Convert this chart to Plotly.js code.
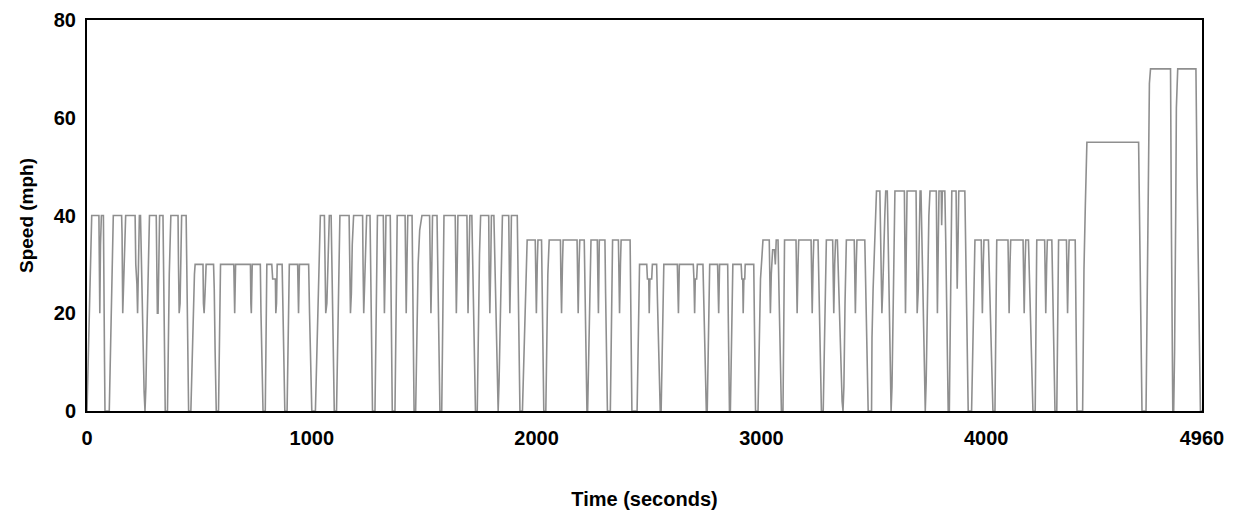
<!DOCTYPE html>
<html>
<head>
<meta charset="utf-8">
<script src="https://cdn.plot.ly/plotly-3.0.1.min.js"></script>
<style>html,body{margin:0;padding:0;background:#fff;}#chart{width:1238px;height:524px;}</style>
</head>
<body>
<div id="chart"></div>
<script>
// Segment A: 40 mph stop-and-go
const segA_t = [0,5,14,21,53,55,57,60,64,73,75,76,78,80,99,103,110,117,154,156,159,162,166,172,214,217,222,225,229,233,238,242,248,254,258,262,266,272,278,308,310,313,316,319,323,338,340,344,348,358,361,366,373,405,407,410,414,418,421,441,443,447,452,462];
const segA_v = [0,10,29,40,40,22,20,34,40,40,33,22,10,0,0,10,30,40,40,36,20,24,30,40,40,30,26,20,30,40,40,30,15,4,0,5,15,30,40,40,30,20,20,32,40,40,30,12,0,0,10,28,40,40,30,20,22,35,40,40,30,12,0,0];
// Segment B: 30 mph
const segB_t = [466,472,478,481,516,518,521,525,530,563,566,570,575,585,588,591,594,653,655,657,661,727,729,731,735,771,774,778,783,793,796,800,822,826,838,840,843,846,868,871,876,880,890,894,900,937,939,941,945,986,990,995,1000,1016];
const segB_v = [8,20,28,30,30,22,20,24,30,30,25,12,0,0,10,25,30,30,22,20,30,30,22,20,30,30,20,8,0,0,12,30,30,27,27,20,22,30,30,20,8,0,0,12,30,30,22,20,30,30,20,8,0,0];
// Segment C: 40 mph
const segC_t = [1021,1030,1038,1056,1058,1062,1067,1072,1078,1086,1090,1095,1100,1110,1114,1119,1125,1166,1168,1172,1176,1180,1186,1226,1228,1231,1235,1240,1244,1259,1262,1266,1270,1281,1284,1288,1292,1318,1320,1323,1327,1330,1349,1352,1355,1358,1370,1373,1377,1380,1415,1417,1420,1424,1427,1446,1449,1452,1455,1462,1466,1473,1480,1490,1524,1527,1530,1534,1537,1557,1560,1565,1570,1578,1581,1585,1588,1638,1640,1643,1647,1650,1690,1692,1695,1699,1703,1712,1716,1722,1728,1736,1740,1746,1751,1787,1789,1792,1796,1799,1810,1814,1820,1826,1829,1833,1838,1844,1848,1876,1878,1881,1885,1888,1914,1918,1922,1926,1937];
const segC_v = [10,28,40,40,30,20,22,32,40,40,28,12,0,0,12,30,40,40,30,20,24,34,40,40,30,20,26,36,40,40,28,10,0,0,12,30,40,40,28,20,30,40,40,28,10,0,0,15,32,40,40,28,20,32,40,40,25,8,0,0,12,30,37,40,40,28,20,30,40,40,28,10,0,0,15,32,40,40,28,20,30,40,40,28,20,30,40,40,28,10,0,0,15,32,40,40,28,20,30,40,40,30,15,5,0,6,20,35,40,40,28,20,30,40,40,28,10,0,0];
// Segment D: 35 mph
const segD_t = [1944,1951,1958,1994,1996,1999,2003,2006,2022,2025,2029,2032,2041,2045,2050,2056,2106,2108,2111,2115,2118,2180,2182,2185,2189,2192,2212,2216,2220,2224,2227,2231,2237,2242,2270,2272,2275,2279,2304,2307,2311,2315,2328,2332,2338,2364,2366,2369,2373,2376,2416,2419,2422,2424,2447];
const segD_v = [12,27,35,35,28,20,30,35,35,25,10,0,0,12,28,35,35,27,20,30,35,35,27,20,30,35,35,22,8,0,0,12,28,35,35,27,20,35,35,24,8,0,0,15,35,35,30,20,30,35,35,20,6,0,0];
// Segment E: 30 mph
const segE_t = [2451,2455,2458,2490,2493,2499,2501,2504,2512,2515,2534,2538,2544,2550,2554,2558,2563,2566,2626,2628,2631,2635,2697,2700,2703,2706,2712,2715,2740,2744,2750,2755,2759,2763,2767,2770,2805,2807,2810,2814,2850,2853,2856,2858,2862,2866,2870,2873,2910,2913,2917,2919,2922,2926,2928,2966,2969,2972,2974,2985];
const segE_v = [12,25,30,30,27,27,20,27,27,30,30,22,10,0,0,12,25,30,30,22,20,30,30,27,20,27,27,30,30,22,8,0,0,12,25,30,30,22,20,30,30,18,5,0,0,12,25,30,30,27,27,20,27,27,30,30,18,5,0,0];
// Segment F: 35 mph
const segF_t = [2990,2996,3003,3007,3035,3037,3040,3044,3050,3058,3062,3066,3074,3078,3083,3089,3096,3099,3103,3154,3156,3159,3163,3166,3221,3223,3226,3230,3233,3252,3256,3261,3267,3275,3280,3285,3289,3317,3319,3322,3326,3330,3338,3342,3348,3353,3359,3363,3367,3372,3378,3413,3415,3418,3422,3425,3460,3465,3470,3475,3490];
const segF_v = [12,27,32,35,35,28,20,28,33,33,30,35,35,25,10,0,0,15,35,35,27,20,30,35,35,27,20,30,35,35,25,10,0,0,15,30,35,35,27,20,30,35,35,28,20,10,2,0,5,22,35,35,27,20,30,35,35,25,10,0,0];
// Segment G: 45 mph
const segG_t = [3492,3497,3503,3509,3512,3527,3529,3533,3536,3540,3545,3549,3553,3560,3564,3569,3574,3577,3581,3586,3591,3594,3636,3638,3641,3645,3648,3688,3690,3693,3698,3703,3706,3710,3714,3720,3726,3729,3733,3738,3745,3750,3778,3780,3783,3787,3790,3800,3802,3805,3816,3820,3826,3831,3836,3840,3844,3847,3866,3868,3871,3875,3878,3905,3909,3914,3920,3935];
const segG_v = [15,25,35,43,45,45,40,30,20,25,38,40,45,45,35,20,5,0,5,25,40,45,45,35,20,35,45,45,35,20,25,40,45,45,35,18,4,0,6,25,40,45,45,35,20,35,45,45,38,45,45,35,15,0,0,20,40,45,45,35,25,35,45,45,30,12,0,0];
// Segment H: 35 mph
const segH_t = [3940,3945,3950,3978,3980,3983,3987,3990,4010,4015,4022,4030,4039,4043,4047,4097,4099,4102,4106,4109,4164,4166,4169,4173,4176,4188,4193,4200,4208,4218,4221,4225,4260,4262,4265,4269,4272,4292,4297,4302,4306,4314,4318,4322,4357,4359,4362,4366,4369,4396,4399,4402,4404,4429];
const segH_v = [12,28,35,35,27,20,30,35,35,25,12,0,0,15,35,35,27,20,30,35,35,27,20,30,35,35,25,12,0,0,15,35,35,27,20,30,35,35,22,8,0,0,15,35,35,27,20,30,35,35,20,6,0,0];
// Segment I: highway 55 / 70 mph
const segI_t = [4432,4435,4441,4448,4678,4682,4686,4690,4693,4711,4715,4722,4726,4731,4820,4824,4828,4830,4834,4838,4843,4846,4852,4933,4938,4944,4949,4953,4960];
const segI_v = [18,29,42,55,55,40,25,8,0,0,22,45,67,70,70,37,8,0,0,12,40,62,70,70,48,25,12,0,0];

const xTicks = [0,1000,2000,3000,4000,4960];
const yTicks = [0,20,40,60,80];

const time = [].concat(segA_t,segB_t,segC_t,segD_t,segE_t,segF_t,segG_t,segH_t,segI_t);
const speed = [].concat(segA_v,segB_v,segC_v,segD_v,segE_v,segF_v,segG_v,segH_v,segI_v);

const sans = "Liberation Sans, Arial, sans-serif";

Plotly.newPlot('chart', [{
  x: time, y: speed, type: 'scatter', mode: 'lines',
  line: {color: '#8f8f8f', width: 1.6},
  hoverinfo: 'x+y', showlegend: false
}], {
  width: 1238, height: 524,
  margin: {l: 87, r: 36, t: 20, b: 113},
  paper_bgcolor: '#ffffff', plot_bgcolor: '#ffffff',
  xaxis: {
    range: [0, 4960], tickvals: xTicks, ticktext: xTicks.map(String),
    showgrid: false, zeroline: false, showline: true, mirror: true,
    linecolor: '#000', linewidth: 2, ticks: '', ticklabelstandoff: 8,
    tickfont: {family: sans, size: 20, weight: 'bold', color: '#000'},
    title: {text: 'Time (seconds)', standoff: 44, font: {family: sans, size: 20, weight: 'bold', color: '#000'}}
  },
  yaxis: {
    range: [0, 80], tickvals: yTicks, ticktext: yTicks.map(String),
    showgrid: false, zeroline: false, showline: true, mirror: true,
    linecolor: '#000', linewidth: 2, ticks: '', ticklabelstandoff: 5,
    tickfont: {family: sans, size: 20, weight: 'bold', color: '#000'},
    title: {text: 'Speed (mph)', standoff: 15, font: {family: sans, size: 19, weight: 'bold', color: '#000'}}
  }
}, {displayModeBar: false, staticPlot: true});
</script>
</body>
</html>
